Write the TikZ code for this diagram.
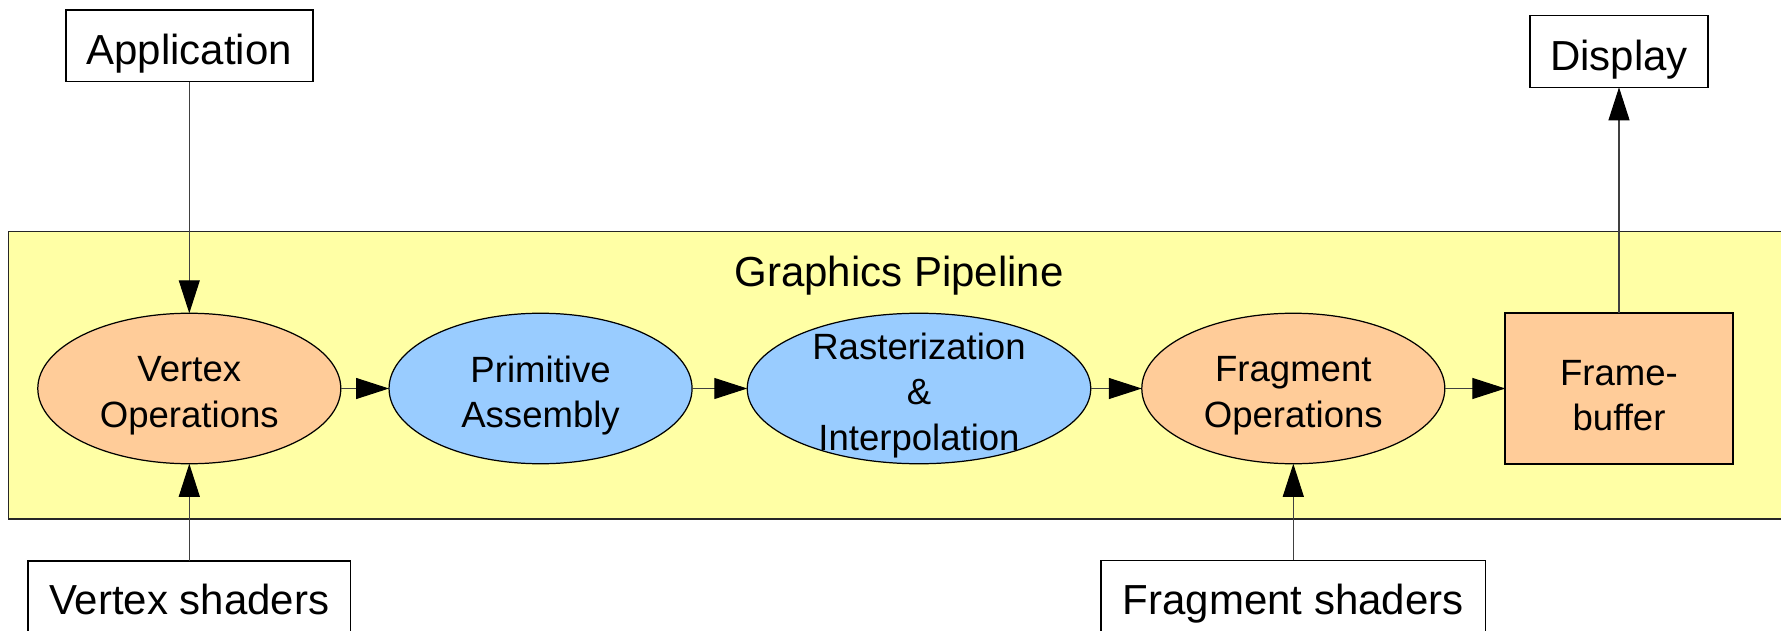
\documentclass[tikz,border=0pt]{standalone}
\usepackage{fontspec}
\setmainfont{Liberation Sans}
\usepackage{tikz}
\usetikzlibrary{shapes,arrows.meta,backgrounds,positioning,calc}

\definecolor{pipeyellow}{RGB}{255,255,165}
\definecolor{opsorange}{RGB}{255,204,153}
\definecolor{asmblue}{RGB}{153,204,255}

\begin{document}
\begin{tikzpicture}[
    box/.style={draw,line width=0.9pt,fill=white,minimum height=1.433cm,
      font=\fontsize{23.9}{28}\selectfont,text height=21.5pt,text depth=0pt,
      inner sep=0pt,outer sep=0pt},
    shader/.style={draw,line width=0.9pt,fill=white,anchor=north,
      font=\fontsize{23.9}{28}\selectfont,text height=21.5pt,text depth=24pt,
      inner xsep=0pt,inner ysep=0.324cm,outer sep=0pt},
    stage/.style={ellipse,draw,line width=0.7pt,minimum width=6.06cm,
      minimum height=3.01cm,inner sep=0pt,outer sep=0pt},
    stagetext/.style={font=\fontsize{20.8}{25.9}\selectfont,align=center,
      yshift=-0.14cm},
    arr/.style={-{Triangle[length=0.66cm,width=0.42cm,color=black]},
      line width=0.6pt,draw=black!75}
  ]
      \useasboundingbox (0,0) rectangle (35.62,-12.62);

      \coordinate (pl) at (0.168,-4.634);
      \coordinate (pr) at (36.5,-10.382);
      \coordinate (g) at (17.98,-5.35);

      \coordinate (a) at (3.786,-0.916);
      \coordinate (d) at (32.38,-1.03);
      \coordinate (v) at (3.786,-7.77);
      \coordinate (p) at (10.811,-7.77);
      \coordinate (r) at (18.38,-7.77);
      \coordinate (f) at (25.866,-7.77);
      \coordinate (b) at (32.38,-7.77);
      \coordinate (s) at (3.786,-11.22);
      \coordinate (h) at (25.866,-11.206);

      % pipeline frame
      \draw[fill=pipeyellow,line width=0.8pt,draw=black!85] (pl) rectangle (pr);
      \node[font=\fontsize{23.9}{28}\selectfont,text height=21.5pt,text depth=0pt] (gn) at (g) {Graphics Pipeline};

      \node[box,minimum width=4.94cm] (an) at (a) {Application};
      \node[box,minimum width=3.566cm] (dn) at (d) {Display};

      \node[stage,fill=opsorange,label={[stagetext]center:{Vertex\\Operations}}] (vn) at (v) {};
      \node[stage,fill=asmblue,label={[stagetext]center:{Primitive\\Assembly}}] (pn) at (p) {};
      \node[stage,fill=asmblue,minimum width=6.87cm,label={[stagetext]center:{Rasterization\\\&\\Interpolation}}] (rn) at (r) {};
      \node[stage,fill=opsorange,label={[stagetext]center:{Fragment\\Operations}}] (fn) at (f) {};
      \node[draw,fill=opsorange,line width=1.1pt,minimum width=4.546cm,minimum height=3.02cm,
        outer sep=0pt,label={[stagetext]center:{Frame-\\buffer}}] (bn) at (b) {};

      \node[shader,minimum width=6.454cm] (sn) at (s) {Vertex shaders};
      \node[shader,minimum width=7.686cm] (hn) at (h) {Fragment shaders};

      \draw[arr] (an) -- (vn);
      \draw[arr] (sn) -- (vn);
      \draw[arr] (vn) -- (pn);
      \draw[arr] (pn) -- (rn);
      \draw[arr] (rn) -- (fn);
      \draw[arr] (fn) -- (bn);
      \draw[arr] (hn) -- (fn);
      \draw[arr] (bn) -- (dn);
    \end{tikzpicture}
\end{document}
